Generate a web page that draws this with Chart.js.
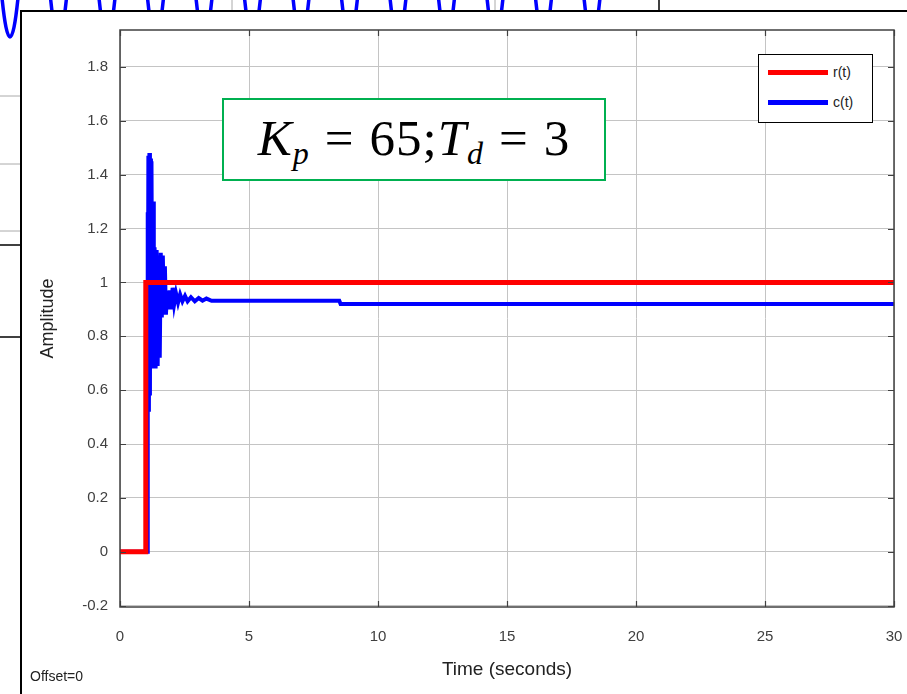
<!DOCTYPE html>
<html>
<head>
<meta charset="utf-8">
<script src="https://cdn.jsdelivr.net/npm/chart.js@4.4.1/dist/chart.umd.min.js"></script>
<style>
  html, body { margin: 0; padding: 0; background: #fff; }
  body { width: 907px; height: 694px; position: relative; overflow: hidden; font-family: "Liberation Sans", Arial, sans-serif; }
  #stray { position: absolute; left: 0; top: 0; }
  #frame { position: absolute; left: 20px; top: 10px; width: 900px; height: 700px; background: #fff;
           border-top: 2px solid #000; border-left: 2px solid #000; }
  #chart { position: absolute; left: 0; top: 0; }
  #note { position: absolute; left: 222px; top: 98px; width: 380px; height: 79px; border: 2px solid #00b050; background: #fff;
          font-family: "Liberation Serif", "DejaVu Serif", serif; font-size: 51px; color: #000; letter-spacing: 1px;
          display: flex; align-items: center; justify-content: center; white-space: nowrap; }
  #note > span { position: relative; top: -2px; }
  #note i { font-style: italic; }
  #note sub { font-size: 32px; vertical-align: -9px; line-height: 0; }
  #note .eq { margin: 0 15px; }
  #legend { position: absolute; left: 758px; top: 54px; width: 113px; height: 67px; border: 1px solid #000; background: #fff; }
  .lg { position: absolute; left: 0; height: 20px; width: 113px; }
  .lg span.ln { position: absolute; left: 9px; top: 7px; width: 60px; height: 5px; }
  .lg span.tx { position: absolute; left: 74px; top: 1px; font-size: 14px; color: #222; }
  #offset { position: absolute; left: 30px; top: 668px; font-size: 14px; color: #222; }
</style>
</head>
<body>
<svg id="stray" width="907" height="694"></svg>
<div id="frame"></div>
<canvas id="chart" width="907" height="694"></canvas>
<div id="note"><span><i>K</i><sub><i>p</i></sub><span class="eq">=</span>65;<i>T</i><sub><i>d</i></sub><span class="eq">=</span>3</span></div>
<div id="legend"></div>
<div id="offset">Offset=0</div>
<script>
// step response data
const refTime = [0, 1.0, 1.0, 30];
const refAmp = [0, 0, 1, 1];

const outTime = [0, 1.06, 1.07, 1.08, 1.10, 1.12, 1.14, 1.16, 1.18, 1.20, 1.22, 1.25, 1.28, 1.31, 1.34, 1.38,
  1.42, 1.46, 1.50, 1.54, 1.58, 1.62, 1.66, 1.70, 1.74, 1.78, 1.83, 1.88, 1.93, 1.98, 2.04, 2.10, 2.17,
  2.25, 2.33, 2.42, 2.52, 2.62, 2.75, 2.90, 3.05, 3.20, 3.35, 3.55, 8.50, 8.55, 30];
const outAmp = [0, 0, 1.26, 0.55, 1.47, 0.52, 1.48, 0.58, 1.46, 0.70, 1.45, 0.76, 1.30, 0.68, 1.13, 0.68,
  1.12, 0.69, 1.10, 0.72, 1.11, 0.87, 1.10, 0.88, 1.06, 0.88, 0.97, 0.90, 0.97, 0.90, 0.98, 0.92, 0.96,
  0.925, 0.955, 0.93, 0.95, 0.93, 0.945, 0.93, 0.942, 0.932, 0.94, 0.932, 0.932, 0.92, 0.92];

const xTicks = [0, 5, 10, 15, 20, 25, 30];
const yTicks = [-0.2, 0, 0.2, 0.4, 0.6, 0.8, 1, 1.2, 1.4, 1.6, 1.8];

// leftover bits of the screenshot behind the scope window
const svg = document.getElementById('stray');
let s = '';
[96, 164, 231].forEach(y => { s += `<line x1="0" y1="${y}" x2="22" y2="${y}" stroke="#aaa" stroke-width="1"/>`; });
[245, 337].forEach(y => { s += `<line x1="0" y1="${y}" x2="22" y2="${y}" stroke="#000" stroke-width="1.5"/>`; });
[232, 495].forEach(x => { s += `<line x1="${x}" y1="0" x2="${x}" y2="12" stroke="#aaa" stroke-width="1"/>`; });
s += `<line x1="659" y1="0" x2="659" y2="12" stroke="#000" stroke-width="1.5"/>`;
let wave = '';
for (let xv = 10; xv < 615; xv += 48.5) wave += `M${xv - 8},-2 Q${xv},76 ${xv + 8},-2 `;
s += `<path d="${wave}" fill="none" stroke="#0000ff" stroke-width="3.5"/>`;
svg.innerHTML = s;

const tickFont = { family: '"Liberation Sans", Arial, sans-serif', size: 15 };

const innerTicks = {
  id: 'innerTicks',
  afterDraw(chart) {
    const { ctx, chartArea: a } = chart;
    const xs = chart.scales.x, ys = chart.scales.y;
    ctx.save();
    ctx.strokeStyle = '#404040';
    ctx.lineWidth = 1.5;
    ctx.strokeRect(a.left, a.top, a.right - a.left, a.bottom - a.top);
    ctx.lineWidth = 1.2;
    ctx.beginPath();
    xTicks.forEach(v => {
      const px = Math.round(xs.getPixelForValue(v)) + 0.5;
      ctx.moveTo(px, a.bottom); ctx.lineTo(px, a.bottom - 6);
      ctx.moveTo(px, a.top); ctx.lineTo(px, a.top + 6);
    });
    yTicks.forEach(v => {
      const py = Math.round(ys.getPixelForValue(v)) + 0.5;
      ctx.moveTo(a.left, py); ctx.lineTo(a.left + 6, py);
      ctx.moveTo(a.right, py); ctx.lineTo(a.right - 6, py);
    });
    ctx.stroke();
    ctx.restore();
  }
};

const chart = new Chart(document.getElementById('chart'), {
  type: 'line',
  data: {
    datasets: [
      { label: 'r(t)', data: refTime.map((t, i) => ({ x: t, y: refAmp[i] })), borderColor: '#ff0000', borderWidth: 5 },
      { label: 'c(t)', data: outTime.map((t, i) => ({ x: t, y: outAmp[i] })), borderColor: '#0000ff', borderWidth: 4 }
    ]
  },
  options: {
    responsive: false,
    animation: false,
    devicePixelRatio: 1,
    parsing: false,
    elements: { point: { radius: 0 }, line: { tension: 0, borderJoinStyle: 'miter' } },
    layout: { padding: { left: 0, top: 30, right: 13, bottom: 0 } },
    plugins: { legend: { display: false }, tooltip: { enabled: false } },
    scales: {
      x: {
        type: 'linear', min: 0, max: 30,
        afterBuildTicks: sc => { sc.ticks = xTicks.map(v => ({ value: v })); },
        afterFit: sc => { sc.height = 87; sc.paddingLeft = 0; sc.paddingRight = 0; },
        grid: { color: '#c4c4c4', lineWidth: 1, drawTicks: false },
        border: { display: false },
        ticks: { color: '#404040', font: tickFont, padding: 21, maxRotation: 0 },
        title: { display: true, text: 'Time (seconds)', color: '#222', font: { family: tickFont.family, size: 19 }, padding: { top: 0, bottom: 13 } }
      },
      y: {
        type: 'linear', min: -0.205, max: 1.937,
        afterBuildTicks: sc => { sc.ticks = yTicks.map(v => ({ value: v })); },
        afterFit: sc => { sc.width = 120; sc.paddingTop = 0; sc.paddingBottom = 0; },
        grid: { color: '#c4c4c4', lineWidth: 1, drawTicks: false },
        border: { display: false },
        ticks: { color: '#404040', font: tickFont, padding: 12, callback: v => String(Math.round(v * 10) / 10) },
        title: { display: true, text: 'Amplitude', color: '#222', font: { family: tickFont.family, size: 18 }, padding: { top: 37, bottom: 0 } }
      }
    }
  },
  plugins: [innerTicks]
});

// boxed legend in the scope style
const legend = document.getElementById('legend');
chart.data.datasets.forEach((ds, i) => {
  const row = document.createElement('div');
  row.className = 'lg';
  row.style.top = (8 + i * 30) + 'px';
  row.innerHTML = `<span class="ln" style="background:${ds.borderColor}"></span><span class="tx">${ds.label}</span>`;
  legend.appendChild(row);
});
</script>
</body>
</html>
